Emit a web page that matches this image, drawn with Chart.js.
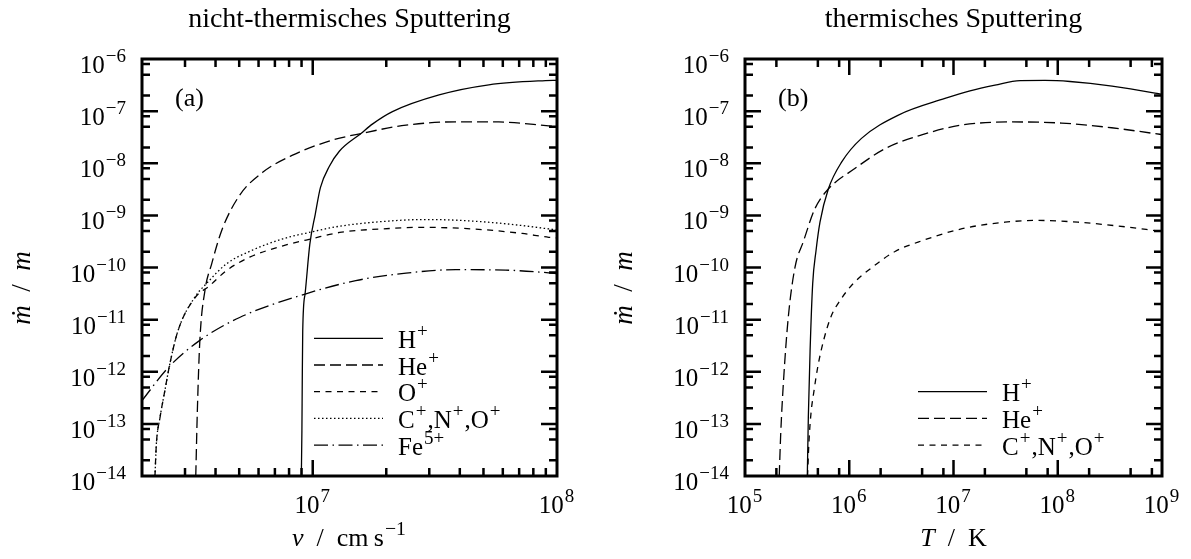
<!DOCTYPE html>
<html>
<head>
<meta charset="utf-8">
<title>Sputtering</title>
<script src="https://cdn.jsdelivr.net/npm/chart.js@4.4.0/dist/chart.umd.min.js"></script>
<style>
  html, body { margin: 0; padding: 0; background: #fff; }
  #wrap { position: relative; width: 1191px; height: 559px; }
  canvas { position: absolute; top: 0; }
  #left { left: 0; }
  #right { left: 595px; }
</style>
</head>
<body>
<div id="wrap">
  <canvas id="left" width="595" height="559"></canvas>
  <canvas id="right" width="596" height="559"></canvas>
</div>
<script>
// --- nicht-thermisch: Rate gegen Geschwindigkeit v [cm/s]
const ntH_v    = [8.98e6, 9.03e6, 9.06e6, 9.10e6, 9.31e6, 9.73e6, 1.024e7, 1.075e7, 1.17e7, 1.285e7, 1.576e7, 1.76e7, 2.12e7, 3.29e7, 5.26e7, 8.97e7, 1e8];
const ntH_rate = [1e-14, 7.4e-14, 6.8e-13, 6.2e-12, 3.2e-11, 2.8e-10, 1.05e-9, 3.4e-9, 8.75e-9, 1.7e-8, 3.73e-8, 5.7e-8, 9.8e-8, 2.05e-7, 3.2e-7, 3.85e-7, 3.9e-7];

const ntHe_v    = [3.32e6, 3.37e6, 3.45e6, 3.62e6, 3.86e6, 4.24e6, 5.02e6, 6.24e6, 8.27e6, 1.20e7, 1.58e7, 2.41e7, 3.86e7, 5.78e7, 9.25e7, 1e8];
const ntHe_rate = [1e-14, 1.78e-13, 3.94e-12, 3.61e-11, 1.19e-10, 5.15e-10, 2.43e-9, 6.71e-9, 1.43e-8, 2.77e-8, 3.73e-8, 5.38e-8, 6.23e-8, 6.2e-8, 5.21e-8, 5.04e-8];

const ntO_v    = [2.26e6, 2.29e6, 2.37e6, 2.48e6, 2.60e6, 2.81e6, 3.29e6, 3.79e6, 4.43e6, 5.52e6, 7.55e6, 1.0e7, 1.29e7, 2.06e7, 2.81e7, 4.5e7, 7.2e7, 9.25e7, 1e8];
const ntO_rate = [1e-14, 4.1e-14, 1.32e-13, 4.3e-13, 1.41e-12, 6.2e-12, 2.6e-11, 4.5e-11, 8.7e-11, 1.58e-10, 2.6e-10, 3.6e-10, 4.7e-10, 5.6e-10, 5.9e-10, 5.5e-10, 4.5e-10, 3.8e-10, 3.7e-10];

const ntCNO_v    = [2.26e6, 2.29e6, 2.37e6, 2.48e6, 2.60e6, 2.81e6, 3.29e6, 3.67e6, 4.43e6, 5.52e6, 7.55e6, 9.86e6, 1.29e7, 2.06e7, 2.81e7, 3.85e7, 6.17e7, 9.25e7, 1e8];
const ntCNO_rate = [1e-14, 4.1e-14, 1.32e-13, 4.3e-13, 1.41e-12, 6.2e-12, 2.7e-11, 4.9e-11, 1.17e-10, 2.04e-10, 3.55e-10, 4.8e-10, 6.2e-10, 7.8e-10, 8.3e-10, 8.1e-10, 6.9e-10, 5.5e-10, 5.25e-10];

const ntFe_v    = [2e6, 2.56e6, 3.45e6, 5.02e6, 9.31e6, 1.50e7, 2.41e7, 3.85e7, 6.17e7, 9.25e7, 1e8];
const ntFe_rate = [2.8e-13, 1.2e-12, 4.0e-12, 1.1e-11, 3.1e-11, 5.6e-11, 7.8e-11, 9.1e-11, 8.9e-11, 7.9e-11, 7.6e-11];

// --- thermisch: Rate gegen Temperatur T [K]
const thH_T    = [3.96e5, 4.05e5, 4.21e5, 4.46e5, 4.80e5, 5.24e5, 6.30e5, 8.47e5, 1.31e6, 2.96e6, 8.28e6, 1.44e7, 2.50e7, 4.35e7, 7.55e7, 1.31e8, 3.32e8, 8.57e8, 1e9];
const thH_rate = [1e-14, 1.32e-13, 2.5e-12, 4.9e-11, 2.1e-10, 7.4e-10, 3.2e-9, 1.06e-8, 3.0e-8, 8.4e-8, 1.75e-7, 2.45e-7, 3.15e-7, 3.85e-7, 3.88e-7, 3.70e-7, 3.03e-7, 2.22e-7, 2.09e-7];

const thHe_T    = [2.13e5, 2.20e5, 2.33e5, 2.60e5, 3.02e5, 3.62e5, 4.69e5, 6.30e5, 1.13e6, 2.20e6, 4.95e6, 1.20e7, 3.61e7, 1.09e8, 3.29e8, 8.57e8, 1e9];
const thHe_rate = [1e-14, 6.3e-14, 5.7e-13, 1.1e-11, 1.02e-10, 3.1e-10, 1.35e-9, 3.2e-9, 7.9e-9, 1.9e-8, 3.5e-8, 5.4e-8, 6.2e-8, 5.9e-8, 4.8e-8, 3.7e-8, 3.55e-8];

const thCNO_T    = [3.98e5, 4.11e5, 4.30e5, 4.59e5, 5.01e5, 5.73e5, 6.68e5, 8.15e5, 1.09e6, 1.65e6, 2.75e6, 4.57e6, 1.21e7, 3.12e7, 6.47e7, 1.56e8, 4.72e8, 8.57e8, 1e9];
const thCNO_rate = [1e-14, 4.7e-14, 1.63e-13, 4.3e-13, 1.30e-12, 4.3e-12, 1.14e-11, 2.32e-11, 4.9e-11, 1.0e-10, 2.03e-10, 3.07e-10, 5.55e-10, 7.4e-10, 8.0e-10, 7.4e-10, 5.95e-10, 5.1e-10, 4.9e-10];

// Achsen
const yTickExps = [-6, -7, -8, -9, -10, -11, -12, -13, -14];
const leftXTickExps = [7, 8];
const rightXTickExps = [5, 6, 7, 8, 9];

const SERIF = '"Liberation Serif", "DejaVu Serif", serif';
const BASE = 25;
const SUP = 19;

function font(size, italic) {
    return (italic ? 'italic ' : '') + size + 'px ' + SERIF;
}

// 'Fe^{5+}' -> [{t:'Fe'}, {t:'5+', sup:true}]
function parseRuns(str) {
    const runs = [];
    let buf = '';
    let i = 0;
    while (i < str.length) {
        if (str[i] === '^') {
            if (buf) { runs.push({ t: buf }); buf = ''; }
            if (str[i + 1] === '{') {
                const j = str.indexOf('}', i);
                runs.push({ t: str.slice(i + 2, j), sup: true });
                i = j + 1;
            } else {
                runs.push({ t: str[i + 1], sup: true });
                i += 2;
            }
        } else {
            buf += str[i];
            i++;
        }
    }
    if (buf) runs.push({ t: buf });
    return runs;
}

function runsWidth(ctx, runs, size) {
    let w = 0;
    runs.forEach(r => {
        ctx.font = font(r.sup ? size * SUP / BASE : size, r.i);
        w += ctx.measureText(r.t).width + (r.sup ? 2 : 0);
    });
    return w;
}

// x = linke Kante, y = Grundlinie
function drawRuns(ctx, runs, x, y, size, raise) {
    ctx.textBaseline = 'alphabetic';
    ctx.textAlign = 'left';
    runs.forEach(r => {
        ctx.font = font(r.sup ? size * SUP / BASE : size, r.i);
        if (r.sup) x += 1;
        ctx.fillText(r.t, x, r.sup ? y - raise : y);
        x += ctx.measureText(r.t).width + (r.sup ? 1 : 0);
    });
}

function decadeTicks(lo, hi, mults) {
    const out = [];
    for (let e = lo; e < hi; e++) {
        mults.forEach(m => out.push(m * Math.pow(10, e)));
    }
    return out;
}

const framePlugin = {
    id: 'frame',
    afterDraw(chart) {
        const p = chart.config.options.panel;
        const ctx = chart.ctx;
        const a = chart.chartArea;
        const xs = chart.scales.x;
        const ys = chart.scales.y;
        ctx.save();
        ctx.fillStyle = '#000';
        ctx.strokeStyle = '#000';

        // Rahmen
        ctx.lineWidth = 3;
        ctx.strokeRect(a.left, a.top, a.right - a.left, a.bottom - a.top);

        // Ticks nach innen, alle vier Seiten
        ctx.lineWidth = 2.5;
        ctx.beginPath();
        const xTick = (v, len) => {
            const px = xs.getPixelForValue(v);
            if (px <= a.left + 1 || px >= a.right - 1) return;
            ctx.moveTo(px, a.bottom); ctx.lineTo(px, a.bottom - len);
            ctx.moveTo(px, a.top); ctx.lineTo(px, a.top + len);
        };
        const yTick = (v, len) => {
            const py = ys.getPixelForValue(v);
            if (py <= a.top + 1 || py >= a.bottom - 1) return;
            ctx.moveTo(a.left, py); ctx.lineTo(a.left + len, py);
            ctx.moveTo(a.right, py); ctx.lineTo(a.right - len, py);
        };
        p.xMinor.forEach(v => xTick(v, 8));
        p.xExps.forEach(e => xTick(Math.pow(10, e), 16));
        decadeTicks(-14, -6, [2, 5, 8]).forEach(v => yTick(v, 8));
        yTickExps.forEach(e => yTick(Math.pow(10, e), 16));
        ctx.stroke();

        // Beschriftung y
        yTickExps.forEach(e => {
            const py = ys.getPixelForValue(Math.pow(10, e));
            const runs = [{ t: '10' }, { t: '\u2212' + Math.abs(e), sup: true }];
            const w = runsWidth(ctx, runs, BASE);
            drawRuns(ctx, runs, a.left - 15 - w, py + 14, BASE, 11);
        });
        // Beschriftung x
        p.xExps.forEach(e => {
            const px = xs.getPixelForValue(Math.pow(10, e));
            const runs = [{ t: '10' }, { t: String(e), sup: true }];
            const w = runsWidth(ctx, runs, BASE);
            drawRuns(ctx, runs, px - w / 2, 513, BASE, 11);
        });

        // Achsentitel
        const mid = (a.left + a.right) / 2;
        const xr = p.xTitle;
        drawRuns(ctx, xr, mid - runsWidth(ctx, xr, 26) / 2, 546, 26, 11);

        const yr = [{ t: '\u1E41', i: true }, { t: '\u2002/\u2002' }, { t: 'm', i: true }];
        ctx.save();
        ctx.translate(p.yTitleX, 288);
        ctx.rotate(-Math.PI / 2);
        drawRuns(ctx, yr, -runsWidth(ctx, yr, 27) / 2, 8, 27, 11);
        ctx.restore();

        // Überschrift
        ctx.font = font(28);
        ctx.textAlign = 'center';
        ctx.fillText(p.title, mid, 27);

        // (a) / (b)
        ctx.font = font(26);
        ctx.textAlign = 'left';
        ctx.fillText(p.tag, a.left + 33, 106);

        // Legende
        chart.data.datasets.forEach((ds, i) => {
            const ly = p.legendTop + i * 26.7;
            ctx.lineWidth = 1.3;
            ctx.setLineDash(ds.borderDash || []);
            ctx.beginPath();
            ctx.moveTo(p.legendX, ly);
            ctx.lineTo(p.legendX + 69, ly);
            ctx.stroke();
            ctx.setLineDash([]);
            drawRuns(ctx, parseRuns(ds.label), p.legendX + 84, ly + 9.5, BASE, 11);
        });
        ctx.restore();
    }
};

const DASH = {
    solid: [],
    long: [11, 5],
    short: [6, 5.5],
    dot: [1.5, 2.5],
    dashdot: [14, 4.5, 1.5, 4.5]
};

function series(label, xs, ys, dash) {
    return {
        label: label,
        data: xs.map((v, i) => ({ x: v, y: ys[i] })),
        borderColor: '#000',
        borderWidth: 1.3,
        borderDash: dash,
        pointRadius: 0,
        fill: false,
        cubicInterpolationMode: 'monotone'
    };
}

function makeChart(id, datasets, xMin, xMax, padding, panel) {
    return new Chart(document.getElementById(id), {
        type: 'line',
        data: { datasets: datasets },
        options: {
            responsive: false,
            animation: false,
            devicePixelRatio: 1,
            layout: { padding: padding },
            scales: {
                x: { type: 'logarithmic', min: xMin, max: xMax, display: false },
                y: { type: 'logarithmic', min: 1e-14, max: 1e-6, display: false }
            },
            plugins: { legend: { display: false }, tooltip: { enabled: false } },
            panel: panel
        },
        plugins: [framePlugin]
    });
}

makeChart('left', [
    series('H^+', ntH_v, ntH_rate, DASH.solid),
    series('He^+', ntHe_v, ntHe_rate, DASH.long),
    series('O^+', ntO_v, ntO_rate, DASH.short),
    series('C^+,N^+,O^+', ntCNO_v, ntCNO_rate, DASH.dot),
    series('Fe^{5+}', ntFe_v, ntFe_rate, DASH.dashdot)
], 2e6, 1e8, { left: 142, top: 59, right: 38, bottom: 83 }, {
    title: 'nicht-thermisches Sputtering',
    tag: '(a)',
    xExps: leftXTickExps,
    xMinor: decadeTicks(6, 8, [2, 3, 4, 5, 6, 7, 8, 9]),
    xTitle: [{ t: 'v', i: true }, { t: '\u2002/\u2002cm\u2009s' }, { t: '\u22121', sup: true }],
    yTitleX: 22,
    legendX: 314,
    legendTop: 338.3
});

makeChart('right', [
    series('H^+', thH_T, thH_rate, DASH.solid),
    series('He^+', thHe_T, thHe_rate, DASH.long),
    series('C^+,N^+,O^+', thCNO_T, thCNO_rate, DASH.short)
], 1e5, 1e9, { left: 150, top: 59, right: 29, bottom: 83 }, {
    title: 'thermisches Sputtering',
    tag: '(b)',
    xExps: rightXTickExps,
    xMinor: decadeTicks(5, 9, [2, 5, 8]),
    xTitle: [{ t: 'T', i: true }, { t: '\u2002/\u2002K' }],
    yTitleX: 29,
    legendX: 323,
    legendTop: 391.7
});
</script>
</body>
</html>
